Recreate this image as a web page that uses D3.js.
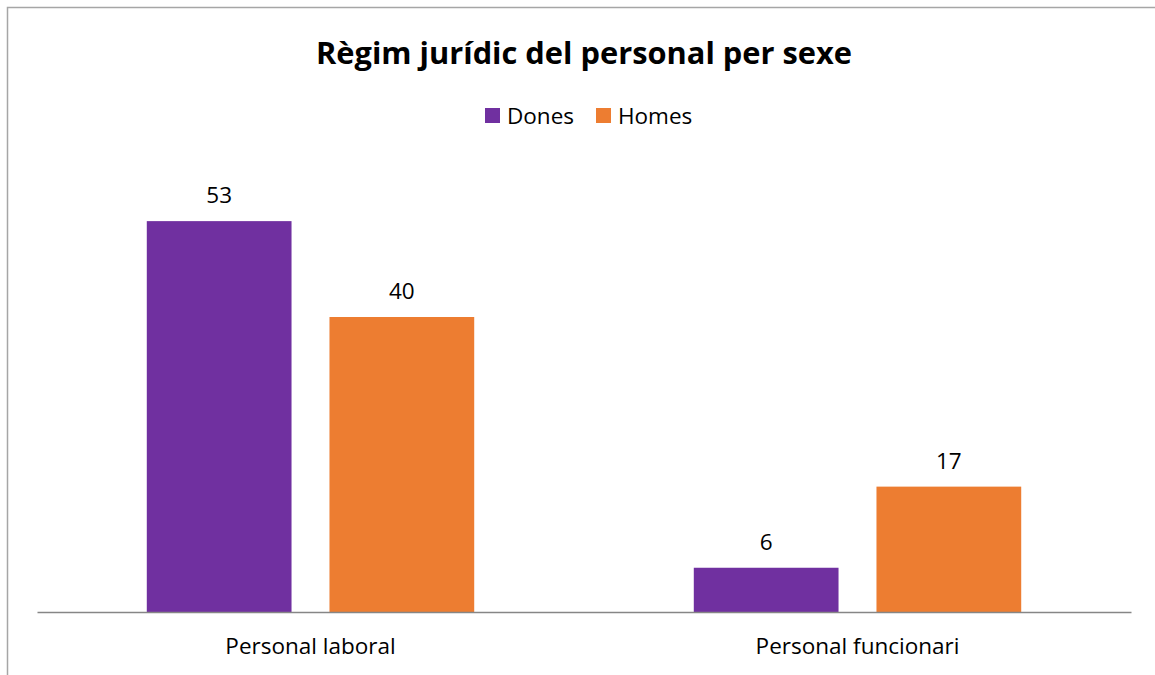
<!DOCTYPE html>
<html><head><meta charset="utf-8">
<script src="https://cdn.jsdelivr.net/npm/d3@7"></script>
<style>body{margin:0;background:#fff}svg{display:block}text{font-family:"Open Sans","Noto Sans",sans-serif;fill:#000}</style>
</head><body><div id="chart"></div>
<script>
const categories = ["Personal laboral", "Personal funcionari"];
const seriesNames = ["Dones", "Homes"];
const dones = [53, 6];
const homes = [40, 17];
const colors = ["#7030A0", "#ED7D31"];
const title = "Règim jurídic del personal per sexe";

const W = 1155, H = 675;
const FONT = "'Open Sans','Noto Sans',sans-serif";
const svg = d3.select("#chart").append("svg").attr("width", W).attr("height", H);
svg.append("path").attr("d", `M7.5,${H} V7.5 H${W}`).attr("fill","none").attr("stroke","#a6a6a6").attr("stroke-width",1.5);

const m = {left:37, right:24, top:169.5, bottom:63};
const x0 = d3.scaleBand().domain(categories).range([m.left, W - m.right]).paddingInner(0).paddingOuter(0);
const x1 = d3.scaleBand().domain(seriesNames).range([0, x0.bandwidth()]).paddingInner(0.2077).paddingOuter(0.601);
const y = d3.scaleLinear().domain([0, 60]).range([H - m.bottom, m.top]);

const data = categories.map((c, i) => ({cat: c, vals: [{s: "Dones", v: dones[i]}, {s: "Homes", v: homes[i]}]}));
const g = svg.append("g");
const grp = g.selectAll("g.cat").data(data).join("g").attr("transform", d => `translate(${x0(d.cat)},0)`);
grp.selectAll("rect").data(d => d.vals).join("rect")
  .attr("x", d => x1(d.s)).attr("width", x1.bandwidth())
  .attr("y", d => y(d.v)).attr("height", d => y(0) - y(d.v))
  .attr("fill", (d, i) => colors[i]);
grp.selectAll("text.lbl").data(d => d.vals).join("text").attr("class","lbl")
  .attr("x", d => x1(d.s) + x1.bandwidth()/2).attr("y", d => y(d.v) - 18)
  .attr("text-anchor","middle").attr("font-size", 22.5).text(d => d.v);

const xAxis = d3.axisBottom(x0).tickSize(0).tickPadding(26);
const ax = svg.append("g").attr("transform", `translate(0,${y(0)})`).call(xAxis);
ax.select(".domain").attr("stroke","#868686").attr("stroke-width",1.3);
ax.selectAll("text").attr("font-size", 22.5).attr("font-family", FONT).attr("fill","#000");

svg.append("text").attr("x", 584).attr("y", 64).attr("text-anchor","middle")
  .attr("font-size", 30).attr("font-weight","bold").attr("textLength", 536).attr("lengthAdjust","spacingAndGlyphs").text(title);

const leg = svg.append("g");
const legX = [485, 596];
seriesNames.forEach((s, i) => {
  leg.append("rect").attr("x", legX[i]).attr("y", 108).attr("width", 15).attr("height", 15).attr("fill", colors[i]);
  leg.append("text").attr("x", legX[i] + 22).attr("y", 124).attr("font-size", 22.5).text(s);
});
</script></body></html>
